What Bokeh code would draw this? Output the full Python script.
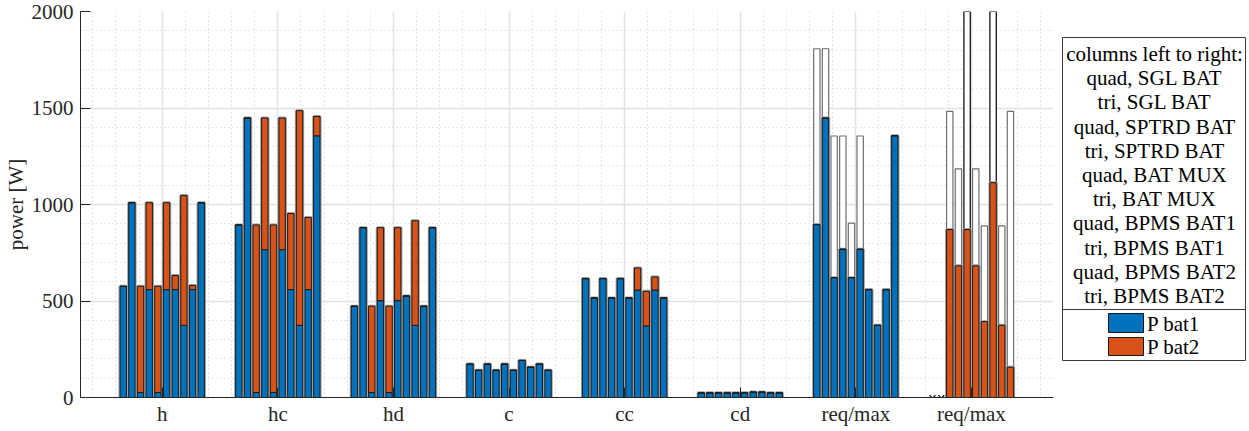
import numpy as np
from bokeh.plotting import figure
from bokeh.models import Range1d, FixedTicker, ColumnDataSource
from bokeh.layouts import row
from bokeh.embed import file_html
from bokeh.resources import INLINE
from bokeh.core.properties import value

# ---------------- data ----------------
groups = ["h", "hc", "hd", "c", "cc", "cd", "req/max", "req/max"]
column_names = ["quad, SGL BAT", "tri, SGL BAT", "quad, SPTRD BAT", "tri, SPTRD BAT",
                "quad, BAT MUX", "tri, BAT MUX", "quad, BPMS BAT1", "tri, BPMS BAT1",
                "quad, BPMS BAT2", "tri, BPMS BAT2"]
series_names = ["P bat1", "P bat2"]

h_bat1 = [576, 1009, 26, 559, 26, 559, 559, 374, 559, 1009]
h_bat2 = [0, 0, 550, 450, 550, 450, 73, 672, 21, 0]

hc_bat1 = [894, 1448, 26, 766, 26, 766, 559, 374, 559, 1356]
hc_bat2 = [0, 0, 868, 682, 868, 682, 394, 1112, 373, 100]

hd_bat1 = [473, 880, 26, 502, 26, 502, 526, 374, 473, 880]
hd_bat2 = [0, 0, 447, 378, 447, 378, 0, 542, 0, 0]

c_bat1 = [173, 141, 173, 141, 173, 141, 192, 157, 173, 141]
c_bat2 = [0, 0, 0, 0, 0, 0, 0, 0, 0, 0]

cc_bat1 = [616, 516, 616, 516, 616, 516, 557, 371, 557, 516]
cc_bat2 = [0, 0, 0, 0, 0, 0, 114, 179, 68, 0]

cd_bat1 = [24, 24, 24, 24, 24, 24, 28, 28, 24, 24]
cd_bat2 = [0, 0, 0, 0, 0, 0, 0, 0, 0, 0]

# required power (coloured) and maximum available power (white)
req1_bat1 = [896, 1448, 621, 768, 621, 768, 559, 374, 559, 1356]
req1_bat2 = [0, 0, 0, 0, 0, 0, 0, 0, 0, 0]
req1_max = [1807, 1807, 1355, 1355, 904, 1355, 0, 0, 0, 0]

req2_bat1 = [0, 0, 0, 0, 0, 0, 0, 0, 0, 0]
req2_bat2 = [np.nan, np.nan, 870, 682, 870, 682, 393, 1113, 374, 157]
req2_max = [np.nan, np.nan, 1482, 1185, 2600, 1185, 889, 2600, 889, 1482]

bat1_all = [h_bat1, hc_bat1, hd_bat1, c_bat1, cc_bat1, cd_bat1, req1_bat1, req2_bat1]
bat2_all = [h_bat2, hc_bat2, hd_bat2, c_bat2, cc_bat2, cd_bat2, req1_bat2, req2_bat2]
max_all = {7: req1_max, 8: req2_max}

BLUE = "#0072BD"
ORANGE = "#D95319"
TEXT = "#262626"
FONT = "Liberation Serif"
FS = "21px"

n_cols = len(column_names)
pitch = 0.075
bw = 0.055

xs, b1, b2 = [], [], []
for g, (a1, a2) in enumerate(zip(bat1_all, bat2_all), start=1):
    for i in range(n_cols):
        v1 = a1[i]
        v2 = a2[i]
        if np.isnan(v2):
            continue
        xs.append(g + (i - (n_cols - 1) / 2) * pitch)
        b1.append(v1)
        b2.append(v2)
xs = np.array(xs); b1 = np.array(b1, float); b2 = np.array(b2, float)
tot = b1 + b2

# max bars
mx_x, mx_top, mx_col = [], [], []
for g, arr in max_all.items():
    for i, v in enumerate(arr):
        if np.isnan(v) or v <= 0:
            continue
        mx_x.append(g + (i - (n_cols - 1) / 2) * pitch)
        mx_top.append(v)
        mx_col.append("#000000" if v > 2000 else "#6e6e6e")

# missing markers
miss_x = [8 + (i - (n_cols - 1) / 2) * pitch for i, v in enumerate(req2_bat2) if np.isnan(v)]

# ---------------- main figure ----------------
H = 430
p = figure(width=1058, height=H, x_range=Range1d(0.293, 8.71), y_range=Range1d(0, 2000),
           output_backend="svg", toolbar_location=None,
           min_border_left=80, min_border_right=5, min_border_top=11, min_border_bottom=33)
p.outline_line_color = None
p.background_fill_color = "white"

xt = FixedTicker(ticks=list(range(1, 9)),
                 minor_ticks=[round(k * 0.2, 1) for k in range(1, 44) if k % 5 != 0])
yt = FixedTicker(ticks=[0, 500, 1000, 1500, 2000],
                 minor_ticks=[k * 100 for k in range(1, 20) if k % 5 != 0])
p.xaxis.ticker = xt
p.yaxis.ticker = yt
p.xgrid.ticker = xt
p.ygrid.ticker = yt
p.xaxis.major_label_overrides = {i + 1: g for i, g in enumerate(groups)}

for ax in (p.xaxis[0], p.yaxis[0]):
    ax.major_tick_in = 10
    ax.major_tick_out = 0
    ax.minor_tick_in = 0
    ax.minor_tick_out = 0
    ax.axis_line_color = TEXT
    ax.major_tick_line_color = TEXT
    ax.major_label_text_font = FONT
    ax.major_label_text_font_size = FS
    ax.major_label_text_color = TEXT
    ax.axis_label_text_font = FONT
    ax.axis_label_text_font_size = FS
    ax.axis_label_text_font_style = "normal"
    ax.axis_label_text_color = TEXT

p.xaxis.major_label_standoff = 4
p.yaxis.major_label_standoff = 7
p.yaxis.axis_label = "power [W]"
p.yaxis.axis_label_standoff = 1

for gr in (p.xgrid[0], p.ygrid[0]):
    gr.grid_line_color = "#e2e2e2"
    gr.grid_line_width = 1.5
    gr.minor_grid_line_color = "#cfcfcf"
    gr.minor_grid_line_dash = "1 3"
    gr.minor_grid_line_width = 1

# white "max" bars
p.vbar(x=mx_x, width=bw, top=mx_top, bottom=0, fill_color="white",
       line_color=mx_col, line_width=1.2)

src = ColumnDataSource(dict(x=xs, b1=b1, tot=tot))
# soft halo
p.vbar(x="x", width=bw, top="tot", bottom=0, source=src, fill_alpha=0,
       line_color="#a0a0a0", line_width=3)
p.vbar(x="x", width=bw, top="b1", bottom=0, source=src, fill_color=BLUE,
       line_color="#1a1a1a", line_width=1)
p.vbar(x="x", width=bw, top="tot", bottom="b1", source=src, fill_color=ORANGE,
       line_color="#1a1a1a", line_width=1)

p.text(x=miss_x, y=[0] * len(miss_x), text=["x"] * len(miss_x),
       text_font=value("DejaVu Sans"), text_font_size="14px",
       text_align="center", text_baseline="alphabetic", text_color="black")

# ---------------- legend panel (coordinates = page pixels) ----------------
leg = figure(width=190, height=H, x_range=Range1d(1058, 1248), y_range=Range1d(397, 11),
             output_backend="svg", toolbar_location=None,
             min_border_left=0, min_border_right=0, min_border_top=11, min_border_bottom=33,
             x_axis_type=None, y_axis_type=None)
leg.outline_line_color = None
leg.xgrid.visible = False
leg.ygrid.visible = False

leg.quad(left=1062, right=1245, top=37, bottom=360, fill_color="white",
         line_color="#3a3a3a", line_width=1)
leg.segment(x0=1062, y0=309, x1=1245, y1=309, line_color="#3a3a3a", line_width=1)

lines = ["columns left to right:"] + column_names
leg.text(x=[1154] * len(lines), y=[53.5 + 24.2 * k for k in range(len(lines))], text=lines,
         text_font=value(FONT), text_font_size=FS, text_color="black",
         text_align="center", text_baseline="middle")

leg.quad(left=1108, right=1143, top=[313, 337], bottom=[332, 355],
         fill_color=[BLUE, ORANGE], line_color="#1a1a1a", line_width=1)
leg.text(x=[1146.5, 1146.5], y=[323, 346.5], text=series_names,
         text_font=value(FONT), text_font_size=FS, text_color="black",
         text_align="left", text_baseline="middle")

layout = row(p, leg)
open("out.html", "w").write(file_html(layout, INLINE))
